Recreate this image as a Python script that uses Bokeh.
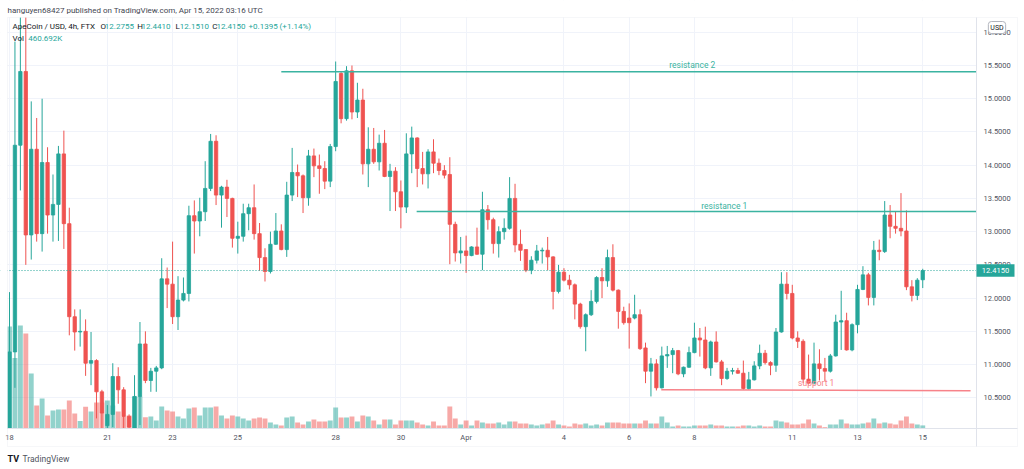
from bokeh.plotting import figure
from bokeh.models import (Range1d, FixedTicker, PrintfTickFormatter, ColumnDataSource,
                          Label, BoxAnnotation, Span)
from bokeh.core.properties import value
from bokeh.embed import file_html
from bokeh.resources import INLINE

# ---------------- data (ApeCoin / USD, 4h, FTX) ----------------
opens = [9.95, 11.19, 14.30, 15.41, 12.95, 14.24, 12.97, 14.04, 13.25, 13.41,
         14.17, 13.12, 11.72, 11.49, 11.50, 11.02, 11.06, 10.59, 10.08, 10.25,
         10.82, 10.62, 10.22, 10.04, 10.52, 11.31, 10.76, 10.90, 10.95, 12.29,
         12.21, 11.72, 11.97, 12.07, 13.24, 13.16, 13.30, 13.65, 14.36, 13.55,
         13.67, 13.50, 12.90, 12.93, 13.27, 13.36, 12.97, 12.61, 12.40, 12.81,
         13.01, 12.73, 13.55, 13.89, 13.84, 13.51, 14.14, 13.99, 13.95, 13.76,
         14.28, 15.38, 14.70, 15.42, 14.80, 14.98, 14.02, 14.24, 14.05, 14.33,
         13.83, 13.91, 13.60, 13.37, 14.17, 14.41, 13.95, 13.87, 14.20, 14.03,
         13.92, 13.86, 13.11, 12.68, 12.71, 12.64, 12.77, 12.66, 13.33, 13.18,
         12.82, 13.00, 13.05, 13.50, 12.81, 12.73, 12.42, 12.57, 12.71, 12.72,
         12.62, 12.10, 12.39, 12.27, 12.20, 11.91, 11.57, 11.75, 11.95, 12.31,
         12.26, 12.61, 12.12, 11.80, 11.70, 11.70, 11.75, 11.25, 10.90, 11.01,
         10.65, 11.13, 11.15, 11.21, 10.86, 10.96, 11.18, 11.40, 11.37, 10.95,
         11.34, 11.04, 10.79, 10.90, 10.91, 10.87, 10.64, 10.77, 10.98, 11.17,
         11.03, 10.99, 11.49, 12.21, 12.07, 11.40, 11.35, 10.78, 10.72, 11.01,
         10.94, 10.90, 11.13, 11.64, 11.66, 11.22, 11.60, 12.13, 12.35, 12.01,
         12.72, 12.70, 13.25, 13.08, 13.05, 13.01, 12.17, 12.04, 12.2755]
highs = [12.09, 15.86, 16.40, 16.30, 14.96, 14.71, 15.00, 14.27, 13.86, 14.29,
         14.52, 13.36, 11.83, 11.83, 11.68, 11.49, 11.08, 10.62, 10.39, 11.02,
         10.96, 10.66, 10.25, 10.84, 11.64, 11.50, 10.95, 10.98, 12.60, 12.46,
         12.85, 12.33, 12.31, 13.39, 13.47, 13.51, 14.06, 14.47, 14.45, 13.69,
         13.78, 13.51, 13.15, 13.42, 13.42, 13.71, 13.13, 12.75, 13.00, 13.28,
         13.11, 13.75, 14.26, 14.01, 13.86, 14.23, 14.25, 14.16, 14.06, 14.32,
         15.56, 15.40, 15.49, 15.50, 15.24, 15.15, 14.57, 14.56, 14.46, 14.53,
         14.02, 13.97, 13.77, 14.48, 14.58, 14.42, 14.20, 14.24, 14.39, 14.10,
         14.00, 14.12, 13.15, 12.92, 12.94, 12.78, 13.06, 13.60, 13.40, 13.21,
         13.08, 13.20, 13.82, 13.72, 13.03, 12.73, 12.63, 12.80, 12.76, 12.92,
         12.63, 12.50, 12.45, 12.35, 12.22, 11.93, 11.77, 12.12, 12.33, 12.45,
         12.73, 12.81, 12.13, 11.87, 11.92, 12.05, 11.83, 11.33, 11.10, 11.08,
         11.27, 11.28, 11.25, 11.22, 10.97, 11.27, 11.63, 11.55, 11.57, 11.36,
         11.50, 11.07, 10.95, 10.95, 10.95, 11.06, 10.89, 11.05, 11.30, 11.22,
         11.05, 11.55, 12.39, 12.39, 12.20, 11.50, 11.38, 11.15, 11.33, 11.23,
         11.10, 11.16, 11.75, 12.11, 11.78, 11.62, 12.20, 12.48, 12.38, 12.86,
         12.88, 13.46, 13.40, 13.30, 13.58, 13.32, 12.27, 12.30, 12.441]
lows = [9.90, 10.65, 13.62, 12.50, 12.58, 12.85, 12.70, 12.97, 12.85, 12.86,
        12.74, 11.44, 11.21, 11.27, 10.83, 10.69, 10.19, 9.95, 9.95, 10.06,
        10.41, 9.98, 9.95, 9.98, 10.09, 10.72, 10.59, 10.59, 10.93, 11.85,
        11.61, 11.52, 11.95, 11.95, 12.67, 12.93, 13.16, 13.61, 13.40, 13.06,
        13.22, 12.76, 12.67, 12.85, 13.02, 12.88, 12.41, 12.25, 12.37, 12.80,
        12.72, 12.62, 13.46, 13.52, 13.28, 13.39, 13.82, 13.57, 13.64, 13.67,
        14.21, 14.63, 14.67, 14.69, 14.71, 13.86, 13.67, 14.02, 13.92, 13.82,
        13.31, 13.31, 13.05, 13.28, 13.88, 13.67, 13.71, 13.65, 13.88, 13.85,
        13.80, 12.51, 12.55, 12.52, 12.38, 12.63, 12.65, 12.42, 13.03, 12.67,
        12.61, 12.88, 13.03, 12.69, 12.56, 12.39, 12.36, 12.52, 12.52, 12.42,
        11.83, 12.07, 12.25, 12.13, 11.68, 11.54, 11.20, 11.73, 11.92, 12.00,
        12.17, 12.10, 11.54, 11.60, 11.24, 11.68, 11.22, 10.72, 10.52, 10.61,
        10.64, 10.95, 10.87, 10.84, 10.81, 10.95, 11.17, 11.12, 10.93, 10.83,
        11.03, 10.69, 10.77, 10.85, 10.86, 10.62, 10.62, 10.76, 10.93, 11.00,
        10.84, 10.89, 11.48, 11.98, 11.38, 11.25, 10.72, 10.70, 10.70, 10.76,
        10.75, 10.88, 11.12, 11.22, 11.21, 11.20, 11.47, 12.12, 11.89, 11.89,
        12.57, 12.68, 12.90, 12.97, 12.93, 12.12, 11.95, 11.97, 12.151]
closes = [11.19, 14.30, 15.41, 12.95, 14.24, 12.97, 14.04, 13.25, 13.41, 14.17,
          13.12, 11.72, 11.49, 11.50, 11.02, 11.06, 10.59, 10.27, 10.25, 10.82,
          10.62, 10.22, 10.06, 10.52, 11.31, 10.76, 10.90, 10.95, 12.29, 12.21,
          11.72, 11.97, 12.07, 13.24, 13.16, 13.30, 13.65, 14.36, 13.55, 13.67,
          13.50, 12.90, 12.93, 13.27, 13.36, 12.97, 12.61, 12.40, 12.81, 13.01,
          12.73, 13.55, 13.89, 13.84, 13.51, 14.14, 13.99, 13.95, 13.76, 14.28,
          15.26, 14.70, 15.42, 14.80, 14.98, 14.02, 14.24, 14.05, 14.33, 13.83,
          13.91, 13.60, 13.37, 14.17, 14.41, 13.95, 13.87, 14.20, 14.03, 13.92,
          13.85, 13.11, 12.68, 12.71, 12.64, 12.77, 12.66, 13.33, 13.18, 12.82,
          13.00, 13.05, 13.50, 12.80, 12.72, 12.42, 12.57, 12.71, 12.72, 12.62,
          12.10, 12.39, 12.27, 12.20, 11.91, 11.57, 11.75, 11.95, 12.31, 12.26,
          12.61, 12.12, 11.80, 11.63, 11.63, 11.75, 11.24, 10.90, 11.01, 10.65,
          11.13, 11.15, 11.21, 10.86, 10.96, 11.18, 11.40, 11.37, 10.95, 11.34,
          11.04, 10.79, 10.90, 10.91, 10.87, 10.64, 10.77, 10.98, 11.17, 11.03,
          10.99, 11.49, 12.21, 12.07, 11.40, 11.35, 10.78, 10.72, 11.01, 10.94,
          10.90, 11.13, 11.64, 11.66, 11.22, 11.60, 12.13, 12.35, 12.01, 12.72,
          12.70, 13.25, 13.08, 13.05, 13.01, 12.17, 12.04, 12.27, 12.415]
volumes_k = [15300, 10590, 15450, 14250, 8250, 3450, 4500, 1950, 2700, 2850,
             2850, 4200, 2250, 1140, 3255, 2550, 3900, 3900, 4200, 3450,
             2550, 1800, 1950, 4800, 4800, 1695, 1800, 1200, 3300, 2700,
             2550, 1800, 1500, 3000, 3150, 1950, 3150, 3150, 3300, 1950,
             1500, 1950, 1800, 1500, 1200, 1500, 1650, 1500, 900, 600,
             450, 1650, 1800, 900, 600, 1050, 1350, 1050, 1050, 1200,
             3150, 1650, 1650, 1800, 1050, 1950, 1800, 1200, 600, 1350,
             1350, 600, 1200, 1200, 1200, 900, 600, 450, 1050, 450,
             450, 3300, 1500, 600, 1200, 450, 1200, 900, 750, 750,
             900, 600, 1050, 1050, 750, 750, 600, 450, 600, 750,
             1200, 600, 450, 300, 750, 600, 750, 450, 600, 450,
             900, 900, 900, 750, 750, 750, 750, 1200, 750, 750,
             1800, 900, 300, 450, 300, 300, 450, 450, 450, 600,
             450, 450, 300, 300, 300, 450, 450, 300, 450, 300,
             300, 1200, 1050, 900, 600, 600, 750, 1350, 750, 450,
             200, 600, 600, 1350, 750, 600, 600, 750, 900, 1500,
             750, 900, 750, 600, 1200, 1800, 750, 600, 460.692]

day_tick_index = [0, 18, 30, 42, 60, 72, 84, 102, 114, 126, 144, 156, 168]
day_tick_labels = ["18", "21", "23", "25", "28", "30", "Apr", "4", "6", "8", "11", "13", "15"]
price_ticks = [10.5, 11.0, 11.5, 12.0, 12.5, 13.0, 13.5, 14.0, 14.5, 15.0, 15.5, 16.0]

# user drawn levels (data coordinates: candle index, price)
level_names = ["resistance 2", "resistance 1", "support 1"]
level_x0 = [50.0, 74.9, 119.9]
level_x1 = [180.0, 180.0, 176.8]
level_y0 = [15.405, 13.303, 10.622]
level_y1 = [15.405, 13.303, 10.605]
level_label_x = [125.6, 131.5, 148.4]
level_label_y = [15.50, 13.38, 10.73]

# ---------------- styles / layout ----------------
UP = "#26a69a"
DOWN = "#ef5350"
FONT = "Roboto"
TXT = "#50535e"
BORDER = "#e0e3eb"
GRID = "#f0f3fa"
W, H = 1024, 469
PANE_RIGHT_IDX = 177.89     # candle-index position of the price-scale separator
PANE_BOTTOM_PRICE = 10.038  # price at the time-scale separator

n = len(closes)
idx = list(range(n))
colors = [UP if c >= o else DOWN for o, c in zip(opens, closes)]
src = ColumnDataSource(dict(
    x=idx, o=opens, h=highs, l=lows, c=closes, v=volumes_k, color=colors,
    top=[max(o, c) for o, c in zip(opens, closes)],
    bottom=[min(o, c) for o, c in zip(opens, closes)],
))

p = figure(width=W, height=H, output_backend="svg", toolbar_location=None,
           x_range=Range1d(-1.656, 186.72), y_range=Range1d(9.421, 16.478),
           y_axis_location="right",
           min_border_left=0, min_border_right=0, min_border_top=0, min_border_bottom=0)
p.extra_y_ranges = {"vol": Range1d(-6150, 64200)}
p.background_fill_color = "white"
p.border_fill_color = "white"
p.outline_line_color = None

# axes (fixed inside the canvas, like the TradingView scales)
p.yaxis.ticker = FixedTicker(ticks=price_ticks)
p.yaxis.formatter = PrintfTickFormatter(format="%.4f")
p.yaxis.fixed_location = PANE_RIGHT_IDX
p.yaxis.bounds = (9.767, 16.222)
p.xaxis.ticker = FixedTicker(ticks=day_tick_index)
p.xaxis.major_label_overrides = {i: s for i, s in zip(day_tick_index, day_tick_labels)}
p.xaxis.fixed_location = PANE_BOTTOM_PRICE
p.xaxis.bounds = (-0.368, 185.43)
for ax in (p.xaxis, p.yaxis):
    ax.axis_line_color = BORDER
    ax.major_tick_line_color = None
    ax.minor_tick_line_color = None
    ax.major_tick_out = 0
    ax.major_tick_in = 0
    ax.major_label_text_font = FONT
    ax.major_label_text_font_size = "7.5px"
    ax.major_label_text_color = TXT
p.yaxis.major_label_standoff = 7
p.xaxis.major_label_standoff = 5
p.xgrid.grid_line_color = GRID
p.ygrid.grid_line_color = GRID

# volume
p.vbar(x="x", width=0.9, top="v", bottom=0, source=src, y_range_name="vol",
       fill_color="color", fill_alpha=0.5, line_color=None)

# candles
p.segment(x0="x", y0="l", x1="x", y1="h", source=src, line_color="color", line_width=1)
p.vbar(x="x", width=0.62, top="top", bottom="bottom", source=src,
       fill_color="color", line_color="color", line_width=0.8)

# drawn levels
lv = ColumnDataSource(dict(x0=level_x0, x1=level_x1, y0=level_y0, y1=level_y1,
                           lx=level_label_x, ly=level_label_y, name=level_names,
                           color=["#3bb3a1", "#3bb3a1", "#f7838a"]))
p.segment(x0="x0", y0="y0", x1="x1", y1="y1", source=lv, line_color="color", line_width=1.4)
p.text(x="lx", y="ly", text="name", source=lv, text_color="color",
       text_font=value(FONT), text_font_size="8.5px",
       text_align="center", text_baseline="middle")

# last price dotted line
p.add_layout(Span(location=closes[-1], dimension="width", line_color=UP,
                  line_dash="1 2", line_width=1, level="glyph"))

# white masks outside the price pane (below the scales' labels)
for l, r, b, t in [(0, W, H - 17, H), (0, W, 0, H - 428), (0, 7, 0, H), (976, W, 0, H)]:
    p.add_layout(BoxAnnotation(left=l, right=r, bottom=b, top=t, level="glyph",
                               left_units="screen", right_units="screen",
                               bottom_units="screen", top_units="screen",
                               fill_color="white", fill_alpha=1, line_color=None))

# chart outer frame
p.add_layout(BoxAnnotation(left=7, right=1017, bottom=H - 446, top=H - 17,
                           left_units="screen", right_units="screen",
                           bottom_units="screen", top_units="screen",
                           fill_color=None, fill_alpha=0, line_color=BORDER, line_width=1))

# price badge
p.add_layout(BoxAnnotation(left=976, right=1014, left_units="screen", right_units="screen",
                           bottom=closes[-1] - 0.095, top=closes[-1] + 0.095,
                           fill_color=UP, fill_alpha=1, line_color=None))
p.add_layout(Label(x=995, y=closes[-1], x_units="screen", text=f"{closes[-1]:.4f}",
                   text_color="white", text_font=FONT, text_font_size="7.5px",
                   text_align="center", text_baseline="middle"))

# USD badge
p.add_layout(Label(x=996.5, y=H - 27, x_units="screen", y_units="screen", text="USD",
                   text_color="#131722", text_font=FONT, text_font_size="7px",
                   text_align="center", text_baseline="middle",
                   background_fill_color="white", border_line_color="#b2b5be",
                   padding=2, border_radius=3))


def lab(x, y, text, color, size="8px", weight="normal"):
    p.add_layout(Label(x=x, y=H - y, x_units="screen", y_units="screen", text=text,
                       text_color=color, text_font=FONT, text_font_size=size,
                       text_font_style=weight, text_align="left", text_baseline="middle"))


# header texts (x, y in page pixels)
lab(7, 10, "hanguyen68427 published on TradingView.com, Apr 15, 2022 03:16 UTC", "#434651")
lab(12, 26, "ApeCoin / USD, 4h, FTX", "#131722")
chg = closes[-1] - opens[-1]
for lx, letter, val in [(100, "O", opens[-1]), (136.7, "H", highs[-1]),
                        (175, "L", lows[-1]), (211.7, "C", closes[-1])]:
    lab(lx, 26, letter, "#131722")
    lab(lx + 4.3, 26, f"{val:.4f}", UP)
lab(248, 26, f"+{chg:.4f} (+{chg / opens[-1] * 100:.2f}%)", UP)
lab(12, 38, "Vol", "#131722")
lab(27.7, 38, f"{volumes_k[-1]:.3f}K", UP)

# footer logo
lab(7, 458, "TV", "#131722", size="9px", weight="bold")
lab(22, 458, "TradingView", "#50535e", size="8.5px")

open("out.html", "w").write(file_html(p, INLINE))
